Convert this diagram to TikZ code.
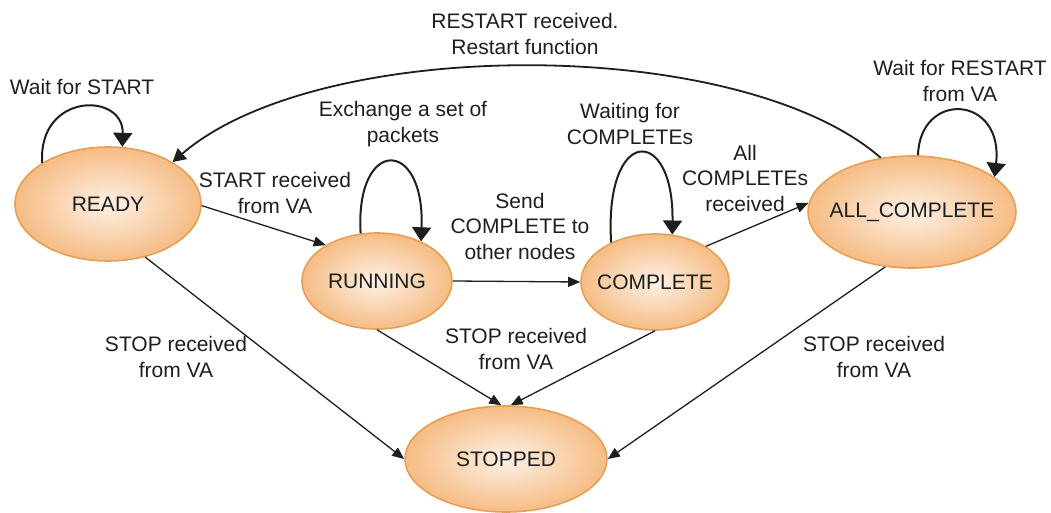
\documentclass[tikz,border=0pt]{standalone}
\usepackage{fontspec}
\setmainfont{Liberation Sans}
\usetikzlibrary{shapes.geometric,arrows.meta}
\definecolor{stin}{RGB}{253,241,230}
\definecolor{stout}{RGB}{246,188,132}
\definecolor{stborder}{RGB}{230,160,85}
\definecolor{ink}{RGB}{30,30,30}
\begin{document}
\begin{tikzpicture}[x=1pt,y=-1pt,
  stnode/.style={ellipse, draw=stborder, line width=1.6pt,
    inner color=stin, outer color=stout, inner sep=0pt},
  lbl/.style={font=\fontsize{21}{25.5}\selectfont, align=center,
    text=ink, inner sep=0pt},
  trans/.style={draw=ink, line width=1.3pt,
    -{Triangle[length=12pt,width=10pt]}},
  backarc/.style={draw=ink, line width=1.8pt,
    -{Triangle[length=13pt,width=14pt]}},
  selfloop/.style={draw=ink, line width=2pt,
    -{Triangle[length=14pt,width=19pt]}},
]
\useasboundingbox (0,0) rectangle (1051,513);

% states
\node[stnode, minimum width=186pt, minimum height=114pt,
  label={[lbl]center:READY}] (ready) at (108,204) {};
\node[stnode, minimum width=150pt, minimum height=96pt,
  label={[lbl]center:RUNNING}] (running) at (377,281) {};
\node[stnode, minimum width=148pt, minimum height=96pt,
  label={[lbl]center:COMPLETE}] (complete) at (655,282) {};
\node[stnode, minimum width=208pt, minimum height=112pt,
  label={[lbl]center:ALL\_COMPLETE}] (all) at (912,212) {};
\node[stnode, minimum width=202pt, minimum height=106pt,
  label={[lbl]center:STOPPED}] (stopped) at (506,459) {};

% transitions
\draw[trans] (ready.-1) -- (running.145);
\draw[trans] (running.east) -- (complete.west);
\draw[trans] (complete.35) -- (all.175);
\draw[trans] (ready.-55) -- (stopped.west);
\draw[trans] (running.-90) -- (stopped.95);
\draw[trans] (complete.-90) -- (stopped.85);
\draw[trans] (all.-116) -- (stopped.east);
\draw[backarc] (all.120) .. controls (740,35) and (320,35) .. (ready.33);

% self loops
\draw[selfloop] (ready.148) .. controls (38,92) and (124,92) .. (ready.76);
\draw[selfloop] (running.109) .. controls (355,137) and (425,137) .. (running.42);
\draw[selfloop] (complete.138) .. controls (604,125) and (674,125) .. (complete.70);
\draw[selfloop] (all.84) .. controls (920,90) and (1004,95) .. (all.23);

% transition labels
\node[lbl] (lwait) at (82,87) {Wait for START};
\node[lbl] (lrestart) at (525,34) {RESTART received.\\Restart function};
\node[lbl] (lexch) at (403,124) {Exchange a set of\\packets};
\node[lbl] (lwaiting) at (630,124) {Waiting for\\COMPLETEs};
\node[lbl] (lstart) at (275,193) {START received\\from VA};
\node[lbl] (lsend) at (520,226) {Send\\COMPLETE to\\other nodes};
\node[lbl] (lall) at (745,178) {All\\COMPLETEs\\received};
\node[lbl] (lwaitr) at (960,81) {Wait for RESTART\\from VA};
\node[lbl] (lstopa) at (176,357) {STOP received\\from VA};
\node[lbl] (lstopb) at (516,349) {STOP received\\from VA};
\node[lbl] (lstopc) at (874,357) {STOP received\\from VA};
\end{tikzpicture}
\end{document}
